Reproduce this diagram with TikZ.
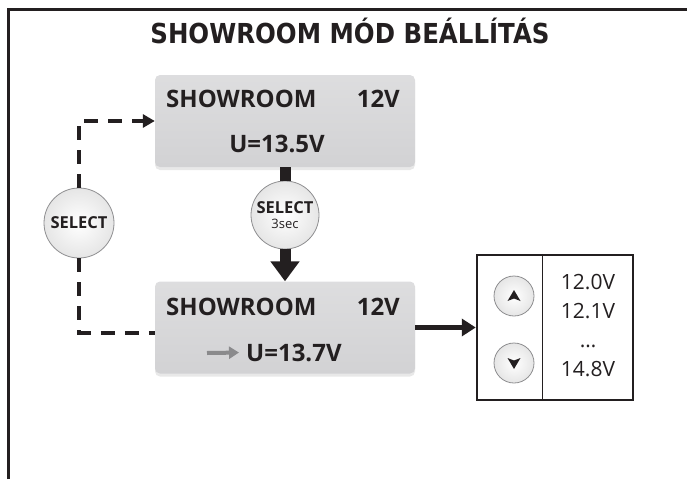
\documentclass[tikz,border=0pt]{standalone}
\usepackage{fontspec}
\setmainfont{Open Sans}
\newfontfamily\titlefont{DejaVu Sans}[FakeStretch=0.89]
\usetikzlibrary{arrows.meta,positioning,shadows}
\definecolor{ink}{HTML}{231F20}
\definecolor{lcdgray}{HTML}{D2D2D4}
\definecolor{rimgray}{HTML}{8E8E90}
\definecolor{hintgray}{HTML}{8A8A8C}

\tikzset{
  lcd/.style={rounded corners=5pt,top color=lcdgray!75!white,bottom color=lcdgray,
    minimum width=260pt,minimum height=92pt,
    drop shadow={opacity=0.18,shadow xshift=0pt,shadow yshift=-3pt}},
  lcdtext/.style={font=\bfseries\fontsize{24}{24}\selectfont,text=ink,inner sep=0pt},
  knob/.style={circle,draw=rimgray,line width=0.8pt,inner color=white,
    outer color=gray!20,minimum size=68pt,inner sep=0pt,text=ink},
  dashline/.style={ink,line width=4pt,dash pattern=on 14pt off 10pt},
  bigline/.style={ink,line width=11pt}
}

\begin{document}
\begin{tikzpicture}[x=1pt,y=-1pt]
  \useasboundingbox (0,0) rectangle (687,479);
  \draw[ink,line width=3pt] (8.7,479) -- (8.7,9.5) -- (687,9.5);
  \node[font=\titlefont\bfseries\fontsize{27.5}{28}\selectfont,text=ink,
    anchor=base,inner sep=0pt] (title) at (350,43) {SHOWROOM MÓD BEÁLLÍTÁS};

  \node[lcd] (lcdA) at (285,121) {};
  \node[lcdtext,anchor=base west] (lcdAname) at (166,107) {SHOWROOM};
  \node[lcdtext,anchor=base east] (lcdAsys) at (400,107) {12V};
  \node[lcdtext,anchor=base] (lcdAval) at (277,152) {U=13.5V};

  \node[lcd] (lcdB) at (285,327.5) {};
  \node[lcdtext,anchor=base west] (lcdBname) at (166,315) {SHOWROOM};
  \node[lcdtext,anchor=base east] (lcdBsys) at (400,315) {12V};
  \node[lcdtext,anchor=base west] (lcdBval) at (246,361) {U=13.7V};
  \coordinate (hint) at (207,353);
  \draw[hintgray,line width=4pt,-{Triangle[length=10pt,width=12pt]},
    shorten >=7pt] (hint) -- (lcdBval.west);

  \node[knob,minimum size=70pt] (selA) at (79,223)
    {\bfseries\fontsize{16.5}{16.5}\selectfont SELECT};
  \node[knob,align=center,font=\fontsize{16.5}{15}\selectfont] (selB) at (285,215)
    {\bfseries SELECT\\
     \fontsize{13}{15}\selectfont 3sec};

  \draw[dashline,-{Triangle[length=12pt,width=13pt]}] (selA.north) |- (lcdA.west);
  \draw[dashline] (selA.south) |- ([yshift=-5pt]lcdB.west);

  \draw[bigline] (lcdA.south) -- (selB.north);
  \draw[bigline,-{Triangle[length=20pt,width=28pt]}] (selB.south) -- (lcdB.north);

  \node[draw=ink,line width=2.5pt,minimum width=156pt,minimum height=145pt,
    inner sep=0pt] (pick) at (555,327.5) {};
  \draw[ink,line width=1.2pt] ([xshift=67pt]pick.north west)
    -- ([xshift=67pt]pick.south west);
  \draw[ink,line width=4.5pt,-{Triangle[length=14pt,width=17pt]}]
    (lcdB.east) -- (pick.west);

  \node[knob,minimum size=40pt] (btnUp) at (514,296) {};
  \node[knob,minimum size=40pt] (btnDown) at (514,363) {};
  \fill[ink] ([shift={(0pt,6pt)}]btnUp.center) -- ([shift={(6.5pt,-5pt)}]btnUp.center)
    -- ([shift={(0pt,-2.5pt)}]btnUp.center) -- ([shift={(-6.5pt,-5pt)}]btnUp.center) -- cycle;
  \fill[ink] ([shift={(0pt,-6pt)}]btnDown.center) -- ([shift={(6.5pt,5pt)}]btnDown.center)
    -- ([shift={(0pt,2.5pt)}]btnDown.center) -- ([shift={(-6.5pt,5pt)}]btnDown.center) -- cycle;

  \node[font=\fontsize{21}{29}\selectfont,text=ink,align=center,anchor=north,
    inner sep=0pt] (vals) at (588,274) {12.0V\\12.1V\\\dots\\14.8V};
\end{tikzpicture}
\end{document}
